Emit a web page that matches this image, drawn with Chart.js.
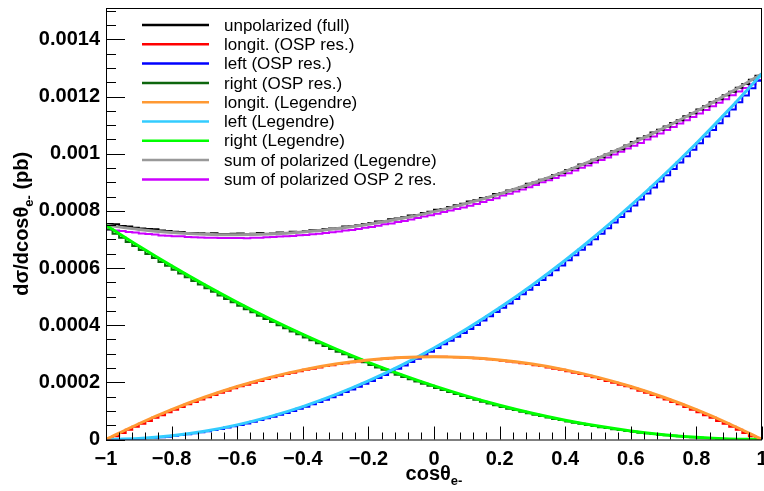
<!DOCTYPE html>
<html>
<head>
<meta charset="utf-8">
<script src="https://cdn.jsdelivr.net/npm/chart.js@4.4.1/dist/chart.umd.min.js"></script>
<style>
  html, body { margin: 0; padding: 0; background: #fff; }
  #wrap { position: relative; width: 764px; height: 491px; }
</style>
</head>
<body>
<div id="wrap"><canvas id="c"></canvas></div>
<script>
// --- Binning / axes ---
const X_MIN = -1, X_MAX = 1, N_BINS = 100;
const Y_MAX = 0.00151;
const UNIT = 1e-6; // all value arrays below are in units of 1e-6 pb

const binEdges = Array.from({ length: N_BINS + 1 }, (_, k) => X_MIN + k * (X_MAX - X_MIN) / N_BINS);

const xTickValues = [-1, -0.8, -0.6, -0.4, -0.2, 0, 0.2, 0.4, 0.6, 0.8, 1];
const xTickLabels = ['\u22121', '\u22120.8', '\u22120.6', '\u22120.4', '\u22120.2', '0', '0.2', '0.4', '0.6', '0.8', '1'];
const yTickValues = [0, 0.0002, 0.0004, 0.0006, 0.0008, 0.001, 0.0012, 0.0014];
const yTickLabels = ['0', '0.0002', '0.0004', '0.0006', '0.0008', '0.001', '0.0012', '0.0014'];

// --- Histograms (100 bins, -1..1) ---
const unpolarized = [
  754,753,747,745,741,738,737,736,731,730,
  727,726,723,723,722,720,722,719,719,720,
  721,718,720,723,719,721,724,723,727,726,
  729,732,731,737,738,739,745,746,750,754,
  758,763,764,771,773,778,784,786,793,797,
  804,807,814,820,825,833,837,845,849,859,
  863,871,877,884,895,899,909,915,926,933,
  943,950,962,968,979,988,997,1009,1016,1029,
  1041,1053,1061,1074,1084,1095,1108,1117,1131,1142,
  1155,1166,1180,1191,1205,1217,1231,1244,1259,1273
];
const longitOSP = [
  0,11,23,34,45,55,65,76,85,95,
  104,114,123,131,140,148,156,164,171,179,
  186,192,199,205,212,218,223,229,234,239,
  244,248,252,257,260,264,267,270,273,276,
  278,281,283,284,286,287,288,289,290,290,
  290,290,289,288,287,286,284,283,281,278,
  276,273,270,267,264,260,257,252,248,244,
  239,234,229,223,218,212,205,199,192,186,
  179,171,164,156,148,140,131,123,114,104,
  95,85,76,65,55,45,34,23,11,0
];
const leftOSP = [
  0,0,1,1,2,3,5,6,8,10,
  13,16,18,22,25,29,33,37,42,46,
  51,56,62,68,74,80,87,93,100,108,
  115,123,131,139,148,157,166,175,185,195,
  205,215,226,237,248,259,271,283,295,307,
  320,333,346,360,373,387,401,416,431,446,
  461,476,492,508,524,541,558,575,592,609,
  627,645,664,682,701,720,739,759,779,799,
  819,840,861,882,903,925,947,969,991,1014,
  1037,1060,1083,1107,1131,1155,1180,1204,1229,1255
];
const rightOSP = [
  735,720,706,691,677,663,649,635,621,608,
  594,581,568,555,542,529,517,504,492,480,
  468,456,445,433,422,411,400,389,378,368,
  357,347,337,327,317,307,298,288,279,270,
  261,252,244,235,227,219,211,203,195,188,
  180,173,166,159,152,145,139,132,126,120,
  114,108,103,97,92,87,82,77,72,68,
  63,59,55,51,47,43,40,36,33,30,
  27,24,22,19,17,15,13,11,9,8,
  6,5,4,3,2,2,1,0,0,0
];
const sumOSP = [
  735,731,730,726,724,721,719,717,714,713,
  711,711,709,708,707,706,706,705,705,705,
  705,704,706,706,708,709,710,711,712,715,
  716,718,720,723,725,728,731,733,737,741,
  744,748,753,756,761,765,770,775,780,785,
  790,796,801,807,812,818,824,831,838,844,
  854,860,868,875,883,891,900,907,915,924,
  932,941,951,959,969,978,987,997,1007,1018,
  1028,1038,1050,1060,1071,1083,1094,1106,1117,1129,
  1141,1153,1166,1178,1191,1205,1218,1230,1243,1258
];

// --- Legendre fit curves ---
const curveX = [-1,-0.9,-0.8,-0.7,-0.6,-0.5,-0.4,-0.3,-0.2,-0.1,0,0.1,0.2,0.3,0.4,0.5,0.6,0.7,0.8,0.9,1];
const longitLeg = [0,55.1,104.4,147.9,185.6,217.5,243.6,263.9,278.4,287.1,290,287.1,278.4,263.9,243.6,217.5,185.6,147.9,104.4,55.1,0];
const leftLeg = [0,3.2,12.8,28.8,51.2,80,115.2,156.8,204.8,259.2,320,387.2,460.8,540.8,627.2,720,819.2,924.8,1036.8,1155.2,1280];
const rightLeg = [750,676.9,607.5,541.9,480,421.9,367.5,316.9,270,226.9,187.5,151.9,120,91.9,67.5,46.9,30,16.9,7.5,1.9,0];
const sumLeg = [750,735.2,724.7,718.6,716.8,719.4,726.3,737.6,753.2,773.2,797.5,826.2,859.2,896.6,938.3,984.4,1034.8,1089.6,1148.7,1212.2,1280];

const FONT = '"Liberation Sans", Arial, Helvetica, sans-serif';

// histogram -> step points on bin edges
function histPoints(vals) {
    const pts = vals.map((v, k) => ({ x: binEdges[k], y: v * UNIT }));
    pts.push({ x: binEdges[N_BINS], y: vals[N_BINS - 1] * UNIT });
    return pts;
}
function curvePoints(vals) {
    return vals.map((v, k) => ({ x: curveX[k], y: v * UNIT }));
}

function histDs(label, vals, color) {
    return { label, data: histPoints(vals), borderColor: color, borderWidth: 2, stepped: 'before', pointRadius: 0, fill: false, order: 2 };
}
function curveDs(label, vals, color) {
    return { label, data: curvePoints(vals), borderColor: color, borderWidth: 3, cubicInterpolationMode: 'monotone', pointRadius: 0, fill: false, order: 1 };
}

// --- Frame, ticks, titles, legend ---
const rootStyle = {
    id: 'rootStyle',
    afterDraw(chart) {
        const { ctx, chartArea: a, scales: { x, y } } = chart;
        ctx.save();
        ctx.strokeStyle = '#000';
        ctx.lineWidth = 1;
        ctx.strokeRect(a.left + 0.5, a.top + 0.5, a.right - a.left - 1, a.bottom - a.top);

        ctx.beginPath();
        for (let k = 0; k * 0.00005 <= Y_MAX; k++) {
            const py = Math.round(y.getPixelForValue(k * 0.00005)) + 0.5;
            ctx.moveTo(a.left, py);
            ctx.lineTo(a.left + (k % 4 === 0 ? 19 : 10), py);
        }
        for (let k = 0; k <= 50; k++) {
            const px = Math.round(x.getPixelForValue(-1 + k * 0.04)) + 0.5;
            ctx.moveTo(px, a.bottom);
            ctx.lineTo(px, a.bottom - (k % 5 === 0 ? 13 : 7));
        }
        ctx.stroke();

        // x title
        ctx.fillStyle = '#000';
        ctx.textBaseline = 'alphabetic';
        ctx.textAlign = 'left';
        const big = 'bold 20px ' + FONT, small = 'bold 13px ' + FONT;
        ctx.font = big; const w1 = ctx.measureText('cos\u03b8').width;
        ctx.font = small; const w2 = ctx.measureText('e-').width;
        const cx = (a.left + a.right) / 2;
        let sx = cx - (w1 + w2) / 2;
        ctx.font = big; ctx.fillText('cos\u03b8', sx, 480);
        ctx.font = small; ctx.fillText('e-', sx + w1, 485);

        // y title
        ctx.save();
        ctx.translate(28, (a.top + a.bottom) / 2);
        ctx.rotate(-Math.PI / 2);
        ctx.font = big; const t1 = ctx.measureText('d\u03c3/dcos\u03b8').width;
        ctx.font = small; const t2 = ctx.measureText('e-').width;
        ctx.font = big; const t3 = ctx.measureText(' (pb)').width;
        let lx = -(t1 + t2 + t3) / 2;
        ctx.font = big; ctx.fillText('d\u03c3/dcos\u03b8', lx, 0);
        ctx.font = small; ctx.fillText('e-', lx + t1, 5);
        ctx.font = big; ctx.fillText(' (pb)', lx + t1 + t2, 0);
        ctx.restore();

        // legend
        ctx.font = '17px ' + FONT;
        ctx.textBaseline = 'middle';
        chart.data.datasets.forEach((ds, k) => {
            const ly = 25 + 19.3 * k;
            ctx.strokeStyle = ds.borderColor;
            ctx.lineWidth = 2.5;
            ctx.beginPath();
            ctx.moveTo(142, ly);
            ctx.lineTo(209, ly);
            ctx.stroke();
            ctx.fillStyle = '#000';
            ctx.fillText(ds.label, 224, ly + 1);
        });
        ctx.restore();
    }
};

new Chart(document.getElementById('c'), {
    type: 'line',
    data: {
        datasets: [
            histDs('unpolarized (full)', unpolarized, '#000000'),
            histDs('longit. (OSP res.)', longitOSP, '#ff0000'),
            histDs('left (OSP res.)', leftOSP, '#0000ff'),
            histDs('right (OSP res.)', rightOSP, '#0d660d'),
            curveDs('longit. (Legendre)', longitLeg, '#ff9933'),
            curveDs('left (Legendre)', leftLeg, '#33ccff'),
            curveDs('right (Legendre)', rightLeg, '#00ff00'),
            curveDs('sum of polarized (Legendre)', sumLeg, '#999999'),
            histDs('sum of polarized OSP 2 res.', sumOSP, '#cc00ff')
        ]
    },
    options: {
        responsive: true,
        maintainAspectRatio: false,
        animation: false,
        events: [],
        layout: { padding: { top: 8, right: 2, left: 0, bottom: 0 } },
        plugins: { legend: { display: false }, tooltip: { enabled: false } },
        scales: {
            x: {
                type: 'linear', min: X_MIN, max: X_MAX,
                afterBuildTicks: s => { s.ticks = xTickValues.map(v => ({ value: v })); },
                afterFit: s => { s.height = 51.5; s.paddingLeft = 0; s.paddingRight = 0; },
                grid: { display: false, drawTicks: false },
                border: { display: false },
                ticks: {
                    autoSkip: false, maxRotation: 0, padding: 8, color: '#000',
                    font: { family: FONT, size: 20, weight: 'bold' },
                    callback: (v, i) => xTickLabels[i]
                }
            },
            y: {
                type: 'linear', min: 0, max: Y_MAX,
                afterBuildTicks: s => { s.ticks = yTickValues.map(v => ({ value: v })); },
                afterFit: s => { s.width = 106; s.paddingTop = 0; s.paddingBottom = 0; },
                grid: { display: false, drawTicks: false },
                border: { display: false },
                ticks: {
                    autoSkip: false, padding: 6, color: '#000',
                    font: { family: FONT, size: 20, weight: 'bold' },
                    callback: (v, i) => yTickLabels[i]
                }
            }
        }
    },
    plugins: [rootStyle]
});
</script>
</body>
</html>
